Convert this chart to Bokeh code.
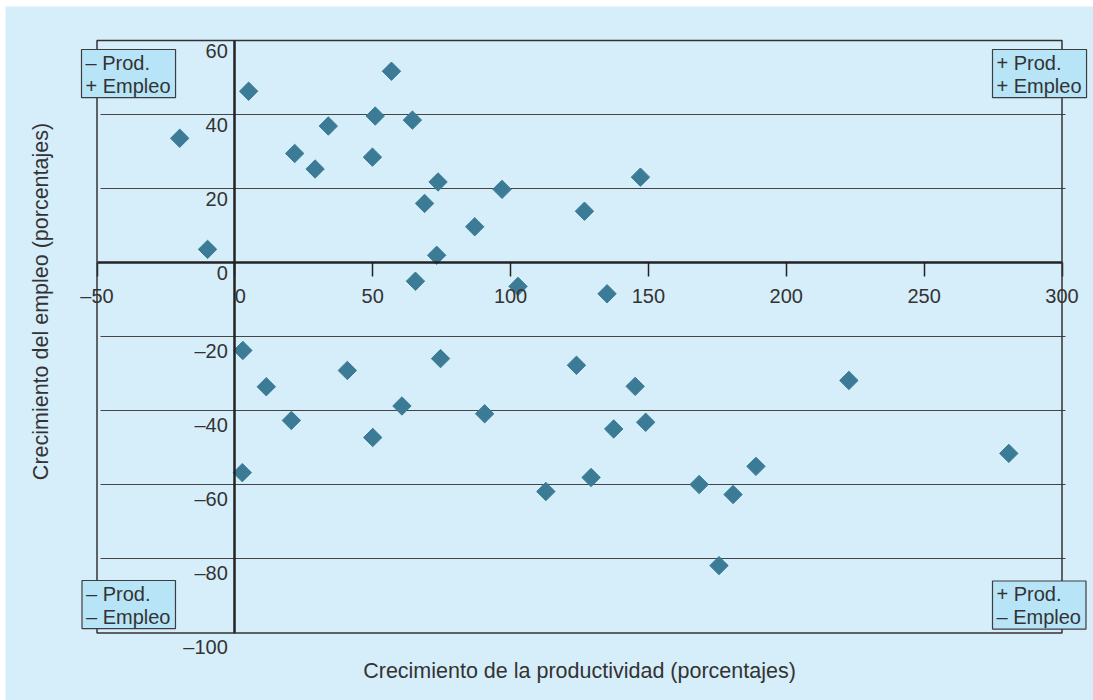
import numpy as np
from bokeh.plotting import figure
from bokeh.models import (Range1d, FixedTicker, Label, LabelSet, ColumnDataSource,
                          BoxAnnotation, Spacer)
from bokeh.layouts import column, row
from bokeh.embed import file_html
from bokeh.resources import INLINE
from bokeh.core.properties import value

# ---- data ----
productividad = [-20.0, -9.9, 5.0, 21.7, 29.1, 33.9, 49.9, 50.9, 56.8, 64.4,
                 73.7, 68.8, 87.0, 73.2, 65.5, 96.9, 126.8, 147.1, 102.7, 135.0,
                 2.9, 2.7, 11.4, 20.5, 40.8, 50.0, 60.6, 74.6, 90.6, 112.8,
                 123.9, 129.2, 137.4, 145.2, 149.0, 168.4, 180.7, 189.0, 175.6, 222.7,
                 280.7]
empleo = [33.6, 3.6, 46.3, 29.5, 25.3, 36.9, 28.5, 39.6, 51.7, 38.5,
          21.8, 16.0, 9.7, 2.0, -5.0, 19.8, 13.9, 23.1, -6.4, -8.4,
          -23.7, -56.7, -33.5, -42.6, -29.1, -47.2, -38.7, -25.9, -40.8, -61.8,
          -27.7, -58.0, -44.9, -33.4, -43.1, -59.9, -62.6, -55.0, -81.8, -31.8,
          -51.5]

x_limits = (-50, 300)
y_limits = (-100, 60)
x_ticks = [-50, 0, 50, 100, 150, 200, 250, 300]
x_tick_labels = ["–50", "\u00a0\u00a00", "50", "100", "150", "200", "250", "300"]
y_ticks = [60, 40, 20, 0, -20, -40, -60, -80, -100]
y_tick_labels = ["60", "40", "20", "0", "–20", "–40", "–60", "–80", "–100"]
grid_values = [40, 20, -20, -40, -60, -80]

x_title = "Crecimiento de la productividad (porcentajes)"
y_title = "Crecimiento del empleo (porcentajes)"
quadrant_labels = ["– Prod.\n+ Empleo", "+ Prod.\n+ Empleo",
                   "– Prod.\n– Empleo", "+ Prod.\n– Empleo"]

# ---- styling ----
BG = "#d6eefa"
BOX = "#b8e4f8"
INK = "#333333"
MARK = "#3b7b96"
FONT = "Liberation Sans"

# canvas size and where the visible plot box should sit (page pixels)
W, H = 1088, 694
OX, OY = 5, 6
FL, FR, FT, FB = 96.5, 1061.5, 40.0, 632.5
kx = (FR - FL) / (x_limits[1] - x_limits[0])
ky = (FB - FT) / (y_limits[1] - y_limits[0])
x_start = x_limits[0] - (FL - OX) / kx
x_end = x_start + W / kx
y_end = y_limits[1] + (FT - OY) / ky
y_start = y_end - H / ky

p = figure(width=W, height=H,
           x_range=Range1d(x_start, x_end), y_range=Range1d(y_start, y_end),
           output_backend="svg", toolbar_location=None)
p.min_border = 0
p.background_fill_color = BG
p.border_fill_color = BG
p.outline_line_color = None

# grid
p.xgrid.grid_line_color = None
p.ygrid.ticker = FixedTicker(ticks=grid_values)
p.ygrid.cross_bounds = (x_limits[0] + 1.3, x_limits[1] + 1.3)
p.ygrid.grid_line_color = "#454545"
p.ygrid.grid_line_width = 1

# x axis through y = 0
xa = p.xaxis[0]
xa.fixed_location = 0
xa.bounds = x_limits
xa.ticker = FixedTicker(ticks=x_ticks)
xa.major_label_overrides = {t: l for t, l in zip(x_ticks, x_tick_labels)}
xa.axis_line_color = "#222222"
xa.axis_line_width = 2.5
xa.major_tick_out = 14
xa.major_tick_in = 0
xa.major_tick_line_color = "#222222"
xa.major_tick_line_width = 1.5
xa.minor_tick_line_color = None
xa.major_label_standoff = 8
xa.major_label_text_font = FONT
xa.major_label_text_font_size = "20px"
xa.major_label_text_color = INK

# y axis through x = 0
ya = p.yaxis[0]
ya.fixed_location = 0
ya.bounds = y_limits
ya.ticker = FixedTicker(ticks=y_ticks)
ya.axis_line_color = "#222222"
ya.axis_line_width = 2.5
ya.major_tick_line_color = None
ya.minor_tick_line_color = None
ya.major_label_text_color = None

# plot box outline
p.add_layout(BoxAnnotation(left=x_limits[0], right=x_limits[1],
                           bottom=y_limits[0], top=y_limits[1],
                           fill_color=None, line_color="#333333",
                           line_alpha=1.0, line_width=1.5))

# y tick labels, hanging just below each tick
ysrc = ColumnDataSource(dict(x=[0] * len(y_ticks), y=y_ticks, text=y_tick_labels))
p.add_layout(LabelSet(x="x", y="y", text="text", source=ysrc,
                      x_offset=-7, y_offset=-3,
                      text_align="right", text_baseline="top",
                      text_font=value(FONT), text_font_size="20px",
                      text_color=INK))

# points
p.scatter(productividad, empleo, marker="square", angle=np.pi / 4, size=13,
          fill_color=MARK, line_color=MARK)

# axis titles (screen units, origin at canvas bottom-left)
p.add_layout(Label(x=(FL + FR) / 2 - OX, y=H - (670 - OY),
                   x_units="screen", y_units="screen",
                   text=x_title, text_align="center", text_baseline="middle",
                   text_font=FONT, text_font_size="21.5px", text_color=INK))
p.add_layout(Label(x=40 - OX, y=H - (301 - OY),
                   x_units="screen", y_units="screen",
                   text=y_title, angle=np.pi / 2,
                   text_align="center", text_baseline="middle",
                   text_font=FONT, text_font_size="21.5px", text_color=INK))

# quadrant boxes (top-left corners, page pixels)
box_pos = [(81, 49), (992, 49), (81.5, 580), (992, 580.5)]
for (bx, by), txt in zip(box_pos, quadrant_labels):
    p.add_layout(Label(x=bx - OX, y=H - (by - OY),
                       x_units="screen", y_units="screen",
                       text=txt, text_align="left", text_baseline="top",
                       text_font=FONT, text_font_size="20px", text_color=INK,
                       text_line_height=1.05,
                       padding=dict(left=4, right=5, top=2, bottom=1),
                       background_fill_color=BOX,
                       border_line_color="#3d3d3d", border_line_alpha=1.0,
                       border_line_width=1.2))

layout = column(Spacer(width=W + OX, height=OY),
                row(Spacer(width=OX, height=H), p))
open("out.html", "w").write(file_html(layout, INLINE))
